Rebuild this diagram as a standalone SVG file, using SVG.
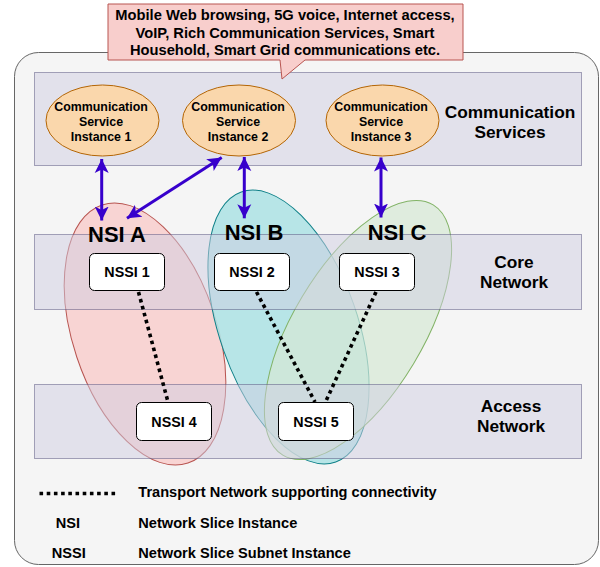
<svg xmlns="http://www.w3.org/2000/svg" width="600" height="567" viewBox="0 0 600 567">
<defs>
<style>
text{font-family:"Liberation Sans",Arial,Helvetica,sans-serif;font-weight:bold;fill:#000;stroke:none;dominant-baseline:central}
.band{fill:#d0cee2;fill-opacity:0.5;stroke:#56517e;stroke-opacity:0.5;stroke-width:1}
.csi ellipse{fill:#fad7ac;stroke:#b46504;stroke-width:1}
.csi text{font-size:12.4px;text-anchor:middle}
.nssi rect{fill:#fff;stroke:#000;stroke-width:1}
.nssi text{font-size:14.3px;text-anchor:middle}
.lbl{font-size:17.3px;text-anchor:middle}
.nsil{font-size:22px;text-anchor:middle}
.dot{stroke:#000;stroke-width:3.6;stroke-dasharray:3.6 3.6;fill:none}
.arr{stroke:#3700cc;stroke-width:3;fill:none;marker-start:url(#ah);marker-end:url(#ah)}
.leg{font-size:14.6px}
</style>
<marker id="ah" markerUnits="userSpaceOnUse" markerWidth="16" markerHeight="16" refX="14" refY="7.5" orient="auto-start-reverse" viewBox="0 0 16 15">
<path d="M0,0.5 L14,7.5 L0,14.5 L3.5,7.5 z" fill="#3700cc"/>
</marker>
</defs>
<g id="container">
<rect x="14.5" y="52.5" width="584" height="512" rx="24" ry="24" fill="#f5f5f5" stroke="#666666" stroke-width="1"/>
</g>
<g id="nsi-ellipses">
<g id="nsi-a"><ellipse cx="145" cy="334" rx="72" ry="136" transform="rotate(-18.4 145 334)" fill="#f8cecc" fill-opacity="0.85" stroke="#b85450" stroke-width="1"/></g>
<g id="nsi-b"><ellipse cx="288.5" cy="327" rx="69" ry="143" transform="rotate(-19.3 288.5 327)" fill="#b0e3e6" fill-opacity="0.9" stroke="#0e8088" stroke-width="1"/></g>
<g id="nsi-c"><ellipse cx="358" cy="330" rx="65" ry="146" transform="rotate(31 358 330)" fill="#d5e8d4" fill-opacity="0.7" stroke="#82b366" stroke-width="1"/></g>
</g>
<g id="bands">
<g id="band-comm"><rect class="band" x="34.5" y="72.5" width="547" height="93"/><text class="lbl" x="510" y="112.3">Communication</text><text class="lbl" x="510" y="132.3">Services</text></g>
<g id="band-core"><rect class="band" x="34.5" y="234.5" width="547" height="75"/><text class="lbl" x="514" y="262.3">Core</text><text class="lbl" x="514" y="281.7">Network</text></g>
<g id="band-access"><rect class="band" x="34.5" y="384.5" width="547" height="74"/><text class="lbl" x="511" y="406">Access</text><text class="lbl" x="511" y="426">Network</text></g>
</g>
<g id="callout">
<path d="M108,4 H463 V60 H305 L282,79 L280,60 H108 Z" fill="#f8cecc" stroke="#b85450" stroke-width="1"/>
<text x="285" y="15" font-size="14.7" text-anchor="middle">Mobile Web browsing, 5G voice, Internet access,</text>
<text x="285" y="32.5" font-size="14.7" text-anchor="middle">VoIP, Rich Communication Services, Smart</text>
<text x="285" y="50" font-size="14.7" text-anchor="middle">Household, Smart Grid communications etc.</text>
</g>
<g id="csi1" class="csi"><ellipse cx="102.5" cy="120.5" rx="56.5" ry="35.5"/><text x="101" y="107">Communication</text><text x="101" y="122">Service</text><text x="101" y="137">Instance 1</text></g>
<g id="csi2" class="csi"><ellipse cx="239" cy="120.5" rx="56.5" ry="35.5"/><text x="238" y="107">Communication</text><text x="238" y="122">Service</text><text x="238" y="137">Instance 2</text></g>
<g id="csi3" class="csi"><ellipse cx="382.5" cy="120.5" rx="56.5" ry="35.5"/><text x="381" y="107">Communication</text><text x="381" y="122">Service</text><text x="381" y="137">Instance 3</text></g>
<g id="nsi-labels">
<text class="nsil" x="117" y="234">NSI A</text>
<text class="nsil" x="254" y="232.5">NSI B</text>
<text class="nsil" x="397" y="232.5">NSI C</text>
</g>
<g id="connectors">
<line class="dot" x1="138.5" y1="292" x2="168" y2="402"/>
<line class="dot" x1="256.5" y1="292" x2="315" y2="402"/>
<line class="dot" x1="376" y1="292" x2="325.5" y2="402"/>
<line class="arr" x1="101.7" y1="159" x2="101.7" y2="220.5"/>
<line class="arr" x1="221.7" y1="157.5" x2="127" y2="218.3"/>
<line class="arr" x1="244.3" y1="157" x2="244.3" y2="218.3"/>
<line class="arr" x1="381" y1="157.5" x2="381" y2="217.5"/>
</g>
<g id="nssi1" class="nssi"><rect x="89.5" y="253.5" width="75" height="37" rx="5"/><text x="127" y="272">NSSI 1</text></g>
<g id="nssi2" class="nssi"><rect x="214.5" y="253.5" width="75" height="37" rx="5"/><text x="252" y="272">NSSI 2</text></g>
<g id="nssi3" class="nssi"><rect x="339.5" y="253.5" width="75" height="37" rx="5"/><text x="377" y="272">NSSI 3</text></g>
<g id="nssi4" class="nssi"><rect x="136.5" y="402.5" width="75" height="38" rx="5"/><text x="174" y="421.5">NSSI 4</text></g>
<g id="nssi5" class="nssi"><rect x="278.5" y="402.5" width="75" height="38" rx="5"/><text x="316" y="421.5">NSSI 5</text></g>
<g id="legend">
<line class="dot" x1="39.5" y1="493.5" x2="118" y2="493.5"/>
<text class="leg" x="138.3" y="491.7">Transport Network supporting connectivity</text>
<text class="leg" x="67.8" y="522.7" text-anchor="middle">NSI</text>
<text class="leg" x="138.3" y="522.7">Network Slice Instance</text>
<text class="leg" x="68.8" y="552.7" text-anchor="middle">NSSI</text>
<text class="leg" x="138.3" y="552.7">Network Slice Subnet Instance</text>
</g>
</svg>
